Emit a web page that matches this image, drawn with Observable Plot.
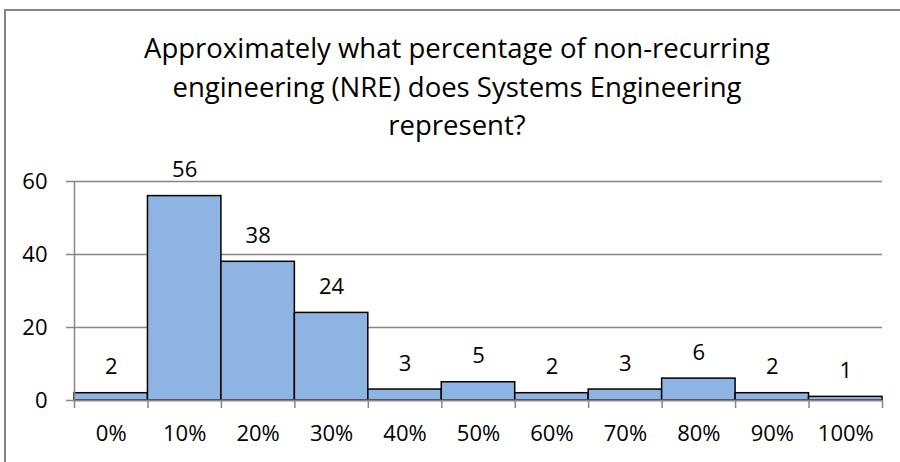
<!DOCTYPE html>
<html>
<head>
<meta charset="utf-8">
<script src="https://cdn.jsdelivr.net/npm/d3@7"></script>
<script src="https://cdn.jsdelivr.net/npm/@observablehq/plot@0.6"></script>
<style>
  html, body { margin: 0; padding: 0; background: #fff; }
  #wrap { position: relative; width: 900px; height: 462px; overflow: hidden; background: #fff; font-family: "Open Sans", sans-serif; }
  #border { position: absolute; left: 4px; top: 9px; width: 920px; height: 480px; border-top: 2px solid #868686; border-left: 2px solid #868686; box-sizing: border-box; }
  #title { position: absolute; left: 14px; width: 886px; top: 29px; text-align: center; font-size: 27.5px; line-height: 38.5px; color: #000; white-space: nowrap; }
  #chart { position: absolute; left: 0; top: 0; }
</style>
</head>
<body>
<div id="wrap">
  <div id="border"></div>
  <div id="chart"></div>
  <div id="title">Approximately what percentage of non-recurring<br>engineering (NRE) does Systems Engineering<br>represent?</div>
</div>
<script>
const categories = ["0%", "10%", "20%", "30%", "40%", "50%", "60%", "70%", "80%", "90%", "100%"];
const values = [2, 56, 38, 24, 3, 5, 2, 3, 6, 2, 1];
const yTicks = [0, 20, 40, 60];
const gridValues = [20, 40, 60];

const data = categories.map((c, i) => ({cat: c, i, value: values[i]}));
const grey = "#868686";

const chart = Plot.plot({
  width: 900,
  height: 462,
  marginLeft: 74,
  marginRight: 18,
  marginTop: 181,
  marginBottom: 62,
  style: {fontFamily: "Open Sans, sans-serif", fontSize: "22px", background: "transparent", color: "#000"},
  x: {type: "linear", domain: [0, categories.length]},
  y: {domain: [0, 60]},
  marks: [
    Plot.ruleY(gridValues, {stroke: grey, strokeWidth: 1.5}),
    Plot.rectY(data, {x1: d => d.i, x2: d => d.i + 1, y: "value", fill: "#8EB4E3", stroke: "#000", strokeWidth: 1.5, inset: 0}),
    Plot.ruleY([0], {stroke: grey, strokeWidth: 2}),
    Plot.ruleX([0], {stroke: grey, strokeWidth: 1.5}),
    Plot.axisY({ticks: yTicks, tickSize: 8, tickPadding: 19, stroke: grey, strokeWidth: 1.5, fill: "#000", label: null, fontSize: 22}),
    Plot.axisX({ticks: d3.range(categories.length + 1), tickSize: 8, tickFormat: () => "", stroke: grey, strokeWidth: 1.5, label: null}),
    Plot.axisX({ticks: categories.map((c, i) => i + 0.5), tickSize: 0, tickPadding: 25, tickFormat: d => categories[Math.floor(d)], fill: "#000", label: null, fontSize: 22}),
    Plot.text(data, {x: d => d.i + 0.5, y: "value", text: d => String(d.value), dy: -19, lineAnchor: "bottom", fontSize: 22, fill: "#000"})
  ]
});
document.getElementById("chart").appendChild(chart);
</script>
</body>
</html>
